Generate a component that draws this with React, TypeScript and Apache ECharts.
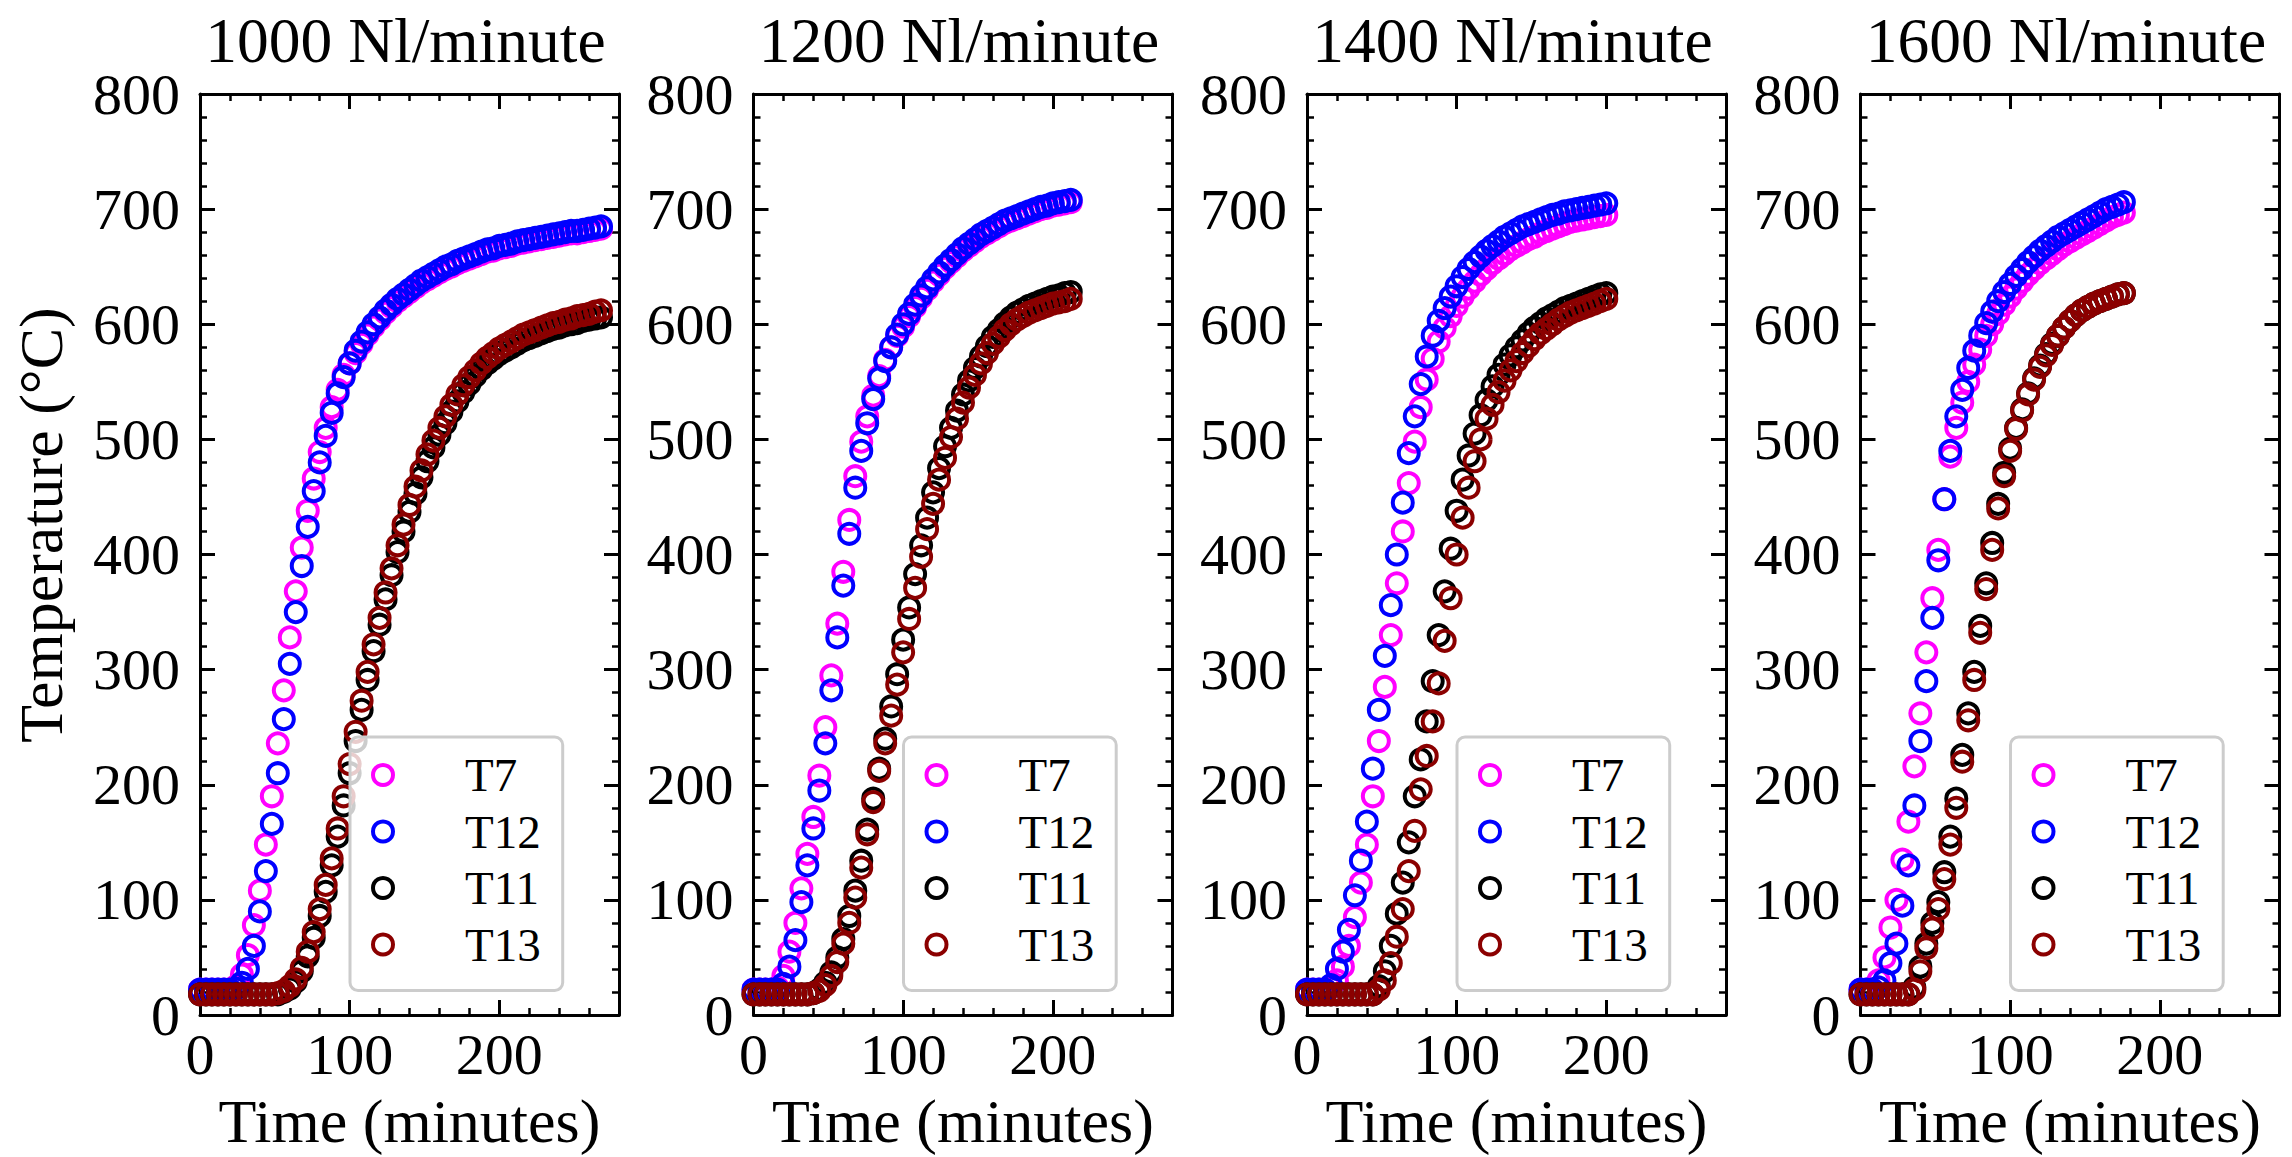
import React, { useEffect, useRef } from "react";
import * as echarts from "echarts";

const FONT = "'Liberation Serif', 'Times New Roman', Times, serif";

const FLOW_TITLES = ["1000 Nl/minute", "1200 Nl/minute", "1400 Nl/minute", "1600 Nl/minute"];
const SENSORS = ["T7", "T12", "T11", "T13"];
const SENSOR_COLORS = ["#ff00ff", "#0000ff", "#000000", "#8b0000"];
const X_LABELS = [0, 100, 200];
const X_MAX = 280;
const Y_MAX = 800;
const X_AXIS_NAME = "Time (minutes)";
const Y_AXIS_NAME = "Temperature (°C)";

// ---- 1000 Nl/minute ----
const time1000 = [0,4,8,12,16,20,24,28,32,36,40,44,48,52,56,60,64,68,72,76,80,84,88,92,96,100,104,108,112,116,120,124,128,132,136,140,144,148,152,156,160,164,168,172,176,180,184,188,192,196,200,204,208,212,216,220,224,228,232,236,240,244,248,252,256,260,264,268];
const t7_1000 = [22,22,22,22,22,22,25,35,52,78,108,148,190,236,282,328,368,406,438,466,489,510,528,543,556,566,575,583,591,598,604,610,615,620,624,628,632,636,639,642,645,648,650,653,655,657,659,661,663,664,666,667,668,670,671,672,673,674,675,676,677,678,679,679,680,681,682,683];
const t12_1000 = [22,22,22,22,22,22,23,28,40,60,90,125,166,210,257,305,350,390,424,455,480,503,523,540,554,566,577,585,593,600,606,612,617,622,626,630,634,638,641,644,647,650,652,655,657,659,661,663,665,666,668,669,670,672,673,674,675,676,677,678,679,680,681,681,682,683,684,685];
const t11_1000 = [18,18,18,18,18,18,18,18,18,18,18,18,18,18,20,23,29,38,51,67,86,107,130,155,182,210,238,265,291,316,339,361,382,402,420,437,453,467,481,493,504,514,524,533,541,548,555,561,566,570,574,577,580,583,586,588,590,592,594,596,597,599,600,601,603,604,605,606];
const t13_1000 = [18,18,18,18,18,18,18,18,18,18,18,18,18,19,21,25,31,41,55,72,92,113,136,162,190,218,246,273,298,322,345,367,388,408,426,443,459,473,487,499,510,520,530,539,547,554,560,566,571,575,579,582,585,588,591,593,595,597,599,601,602,604,605,607,608,609,611,612];

// ---- 1200 Nl/minute ----
const time1200 = [0,4,8,12,16,20,24,28,32,36,40,44,48,52,56,60,64,68,72,76,80,84,88,92,96,100,104,108,112,116,120,124,128,132,136,140,144,148,152,156,160,164,168,172,176,180,184,188,192,196,200,204,208,212];
const t7_1200 = [22,22,22,22,24,34,55,80,110,140,172,208,250,295,340,385,430,468,498,520,538,555,569,580,590,598,607,615,623,630,637,643,649,654,659,664,668,672,676,679,682,685,688,690,692,694,696,698,700,701,703,704,705,706];
const t12_1200 = [22,22,22,22,22,27,42,65,98,130,162,195,236,282,328,373,418,458,490,514,535,553,568,580,591,600,609,617,625,632,639,645,651,656,661,666,670,674,678,681,684,687,690,692,694,696,698,700,702,703,705,706,707,708];
const t11_1200 = [18,18,18,18,18,18,18,18,18,18,19,22,28,37,50,66,86,108,134,161,188,214,240,268,296,326,354,383,408,432,454,475,494,510,525,539,551,562,572,581,589,595,601,606,610,613,616,618,620,622,624,625,627,628];
const t13_1200 = [18,18,18,18,18,18,18,18,18,18,19,21,26,34,46,62,80,102,128,157,185,212,236,260,287,315,344,371,398,422,444,465,484,502,518,532,545,556,566,575,583,589,595,600,604,607,610,612,614,616,618,619,620,622];

// ---- 1400 Nl/minute ----
const time1400 = [0,4,8,12,16,20,24,28,32,36,40,44,48,52,56,60,64,68,72,76,80,84,88,92,96,100,104,108,112,116,120,124,128,132,136,140,144,148,152,156,160,164,168,172,176,180,184,188,192,196,200];
const t7_1400 = [22,22,22,22,24,30,42,60,85,115,148,190,238,285,330,375,420,462,498,528,552,570,585,597,607,616,624,631,637,643,648,653,657,661,665,668,671,674,676,679,681,683,685,687,689,690,691,692,693,694,695];
const t12_1400 = [22,22,22,22,26,40,55,74,104,134,168,214,265,312,356,400,445,488,520,548,572,590,603,614,624,633,641,648,654,659,664,668,672,676,679,682,685,687,689,691,693,695,696,698,699,700,701,702,703,704,705];
const t11_1400 = [18,18,18,18,18,18,18,18,18,18,18,18,25,38,60,88,115,150,190,222,255,290,330,368,405,438,465,486,505,521,534,546,556,565,573,580,586,592,597,601,605,608,611,614,616,618,620,622,624,626,627];
const t13_1400 = [18,18,18,18,18,18,18,18,18,18,18,18,22,30,45,68,92,125,160,196,225,255,288,325,362,400,432,458,481,500,518,530,541,551,560,568,575,581,587,592,596,600,604,607,610,612,614,616,618,620,622];

// ---- 1600 Nl/minute ----
const time1600 = [0,4,8,12,16,20,24,28,32,36,40,44,48,52,56,60,64,68,72,76,80,84,88,92,96,100,104,108,112,116,120,124,128,132,136,140,144,148,152,156,160,164,168,172,176];
const t7_1600 = [22,22,22,30,50,76,100,135,168,216,262,315,362,404,448,485,510,532,550,565,578,590,600,609,617,624,631,637,643,648,653,657,661,665,669,672,675,678,681,684,687,690,693,695,697];
const t12_1600 = [22,22,22,24,30,45,62,95,130,182,238,290,345,395,448,490,520,543,562,577,590,601,611,620,628,635,642,648,654,659,664,668,672,676,679,682,685,688,691,694,697,700,702,704,706];
const t11_1600 = [18,18,18,18,18,18,18,18,18,24,42,62,80,98,124,155,188,226,262,298,338,375,410,444,471,492,510,526,540,553,564,574,583,590,597,603,608,612,615,618,620,622,624,626,627];
const t13_1600 = [18,18,18,18,18,18,18,18,18,22,38,58,75,92,118,148,180,220,256,291,332,370,404,440,468,490,509,525,539,552,563,573,582,590,597,603,608,612,615,618,620,622,624,626,627];

const PANELS = [
  { title: FLOW_TITLES[0], time: time1000, values: [t7_1000, t12_1000, t11_1000, t13_1000] },
  { title: FLOW_TITLES[1], time: time1200, values: [t7_1200, t12_1200, t11_1200, t13_1200] },
  { title: FLOW_TITLES[2], time: time1400, values: [t7_1400, t12_1400, t11_1400, t13_1400] },
  { title: FLOW_TITLES[3], time: time1600, values: [t7_1600, t12_1600, t11_1600, t13_1600] },
];

const GRID_LEFTS = [200, 753.5, 1307, 1860.5];
const GRID_TOP = 94;
const GRID_WIDTH = 419;
const GRID_HEIGHT = 921;

function buildOption(): any {
  const grid: any[] = [];
  const xAxis: any[] = [];
  const yAxis: any[] = [];
  const series: any[] = [];
  const legend: any[] = [];
  const title: any[] = [];

  const frameLine = { show: true, onZero: false, lineStyle: { color: "#000", width: 3 } };
  const majorTick = { show: true, inside: true, length: 15, lineStyle: { color: "#000", width: 3 } };
  const minorTickLine = { show: true, inside: true, length: 7, lineStyle: { color: "#000", width: 2.5 } };
  const noLine = { show: false, onZero: false };

  PANELS.forEach((p, i) => {
    const left = GRID_LEFTS[i];
    grid.push({ left, top: GRID_TOP, width: GRID_WIDTH, height: GRID_HEIGHT, containLabel: false, outerBoundsMode: "none" });

    const xBase = {
      type: "value", gridIndex: i, min: 0, max: X_MAX,
      splitLine: { show: false }, minorSplitLine: { show: false },
    };
    xAxis.push({
      ...xBase, position: "bottom", interval: 100,
      axisLine: frameLine, axisTick: majorTick,
      axisLabel: {
        show: true, margin: 10, fontFamily: FONT, fontSize: 58, color: "#000", lineHeight: 58,
        formatter: (v: number) => (X_LABELS.indexOf(v) >= 0 ? String(v) : ""),
      },
      name: X_AXIS_NAME, nameLocation: "middle", nameGap: 75, nameMoveOverlap: false,
      nameTextStyle: { fontFamily: FONT, fontSize: 62, color: "#000", lineHeight: 62 },
    });
    xAxis.push({ ...xBase, position: "bottom", interval: 20, axisLine: noLine, axisTick: minorTickLine, axisLabel: { show: false } });
    xAxis.push({ ...xBase, position: "top", interval: 100, axisLine: frameLine, axisTick: majorTick, axisLabel: { show: false } });
    xAxis.push({ ...xBase, position: "top", interval: 20, axisLine: noLine, axisTick: minorTickLine, axisLabel: { show: false } });

    const yBase = {
      type: "value", gridIndex: i, min: 0, max: Y_MAX, interval: 100,
      splitLine: { show: false }, minorSplitLine: { show: false },
      axisLine: frameLine, axisTick: majorTick,
      minorTick: { show: true, splitNumber: 5, length: 7, lineStyle: { color: "#000", width: 2.5 } },
    };
    yAxis.push({
      ...yBase, position: "left",
      axisLabel: { show: true, margin: 20, fontFamily: FONT, fontSize: 58, color: "#000" },
    });
    yAxis.push({ ...yBase, position: "right", axisLabel: { show: false } });

    p.values.forEach((vals, j) => {
      series.push({
        type: "scatter",
        name: SENSORS[j],
        xAxisIndex: 4 * i,
        yAxisIndex: 2 * i,
        symbol: "circle",
        symbolSize: 20,
        silent: true,
        z: 2,
        emphasis: { disabled: true },
        itemStyle: { color: "rgba(0,0,0,0)", borderColor: SENSOR_COLORS[j], borderWidth: 4, opacity: 1 },
        data: p.time.map((t, k) => [t, vals[k]]),
      });
    });

    legend.push({
      orient: "vertical",
      left: left + 150,
      top: 737,
      padding: [14.5, 22, 22.5, 21],
      itemWidth: 90,
      itemHeight: 20,
      itemGap: 9.5,
      backgroundColor: "rgba(255,255,255,0.8)",
      borderColor: "#cccccc",
      borderWidth: 3,
      borderRadius: 8,
      selectedMode: false,
      z: 10,
      textStyle: { fontFamily: FONT, fontSize: 47, color: "#000", lineHeight: 47, padding: [0, 0, 0, 32] },
      data: SENSORS.map((s, j) => ({
        name: s,
        icon: "circle",
        itemStyle: { color: "rgba(0,0,0,0)", borderColor: SENSOR_COLORS[j], borderWidth: 4 },
      })),
    });

    title.push({
      text: p.title,
      left: left + GRID_WIDTH / 2 - 4,
      top: 8,
      textAlign: "center",
      padding: 0,
      textStyle: { fontFamily: FONT, fontSize: 63.5, fontWeight: "normal", color: "#000", lineHeight: 64 },
    });
  });

  return {
    animation: false,
    backgroundColor: "#ffffff",
    title,
    grid,
    xAxis,
    yAxis,
    legend,
    series,
    graphic: [
      {
        type: "text",
        x: 41,
        y: 525,
        rotation: Math.PI / 2,
        style: {
          text: Y_AXIS_NAME,
          font: `62px ${FONT}`,
          fill: "#000",
          textAlign: "center",
          textVerticalAlign: "middle",
        },
      },
    ],
  };
}

export default function App() {
  const ref = useRef<HTMLDivElement>(null);
  useEffect(() => {
    if (!ref.current) return;
    const chart = echarts.init(ref.current, undefined, { renderer: "svg" });
    chart.setOption(buildOption());
    return () => chart.dispose();
  }, []);
  return (
    <div
      ref={ref}
      style={{ position: "fixed", left: 0, top: 0, width: 2292, height: 1157, background: "#fff" }}
    />
  );
}
